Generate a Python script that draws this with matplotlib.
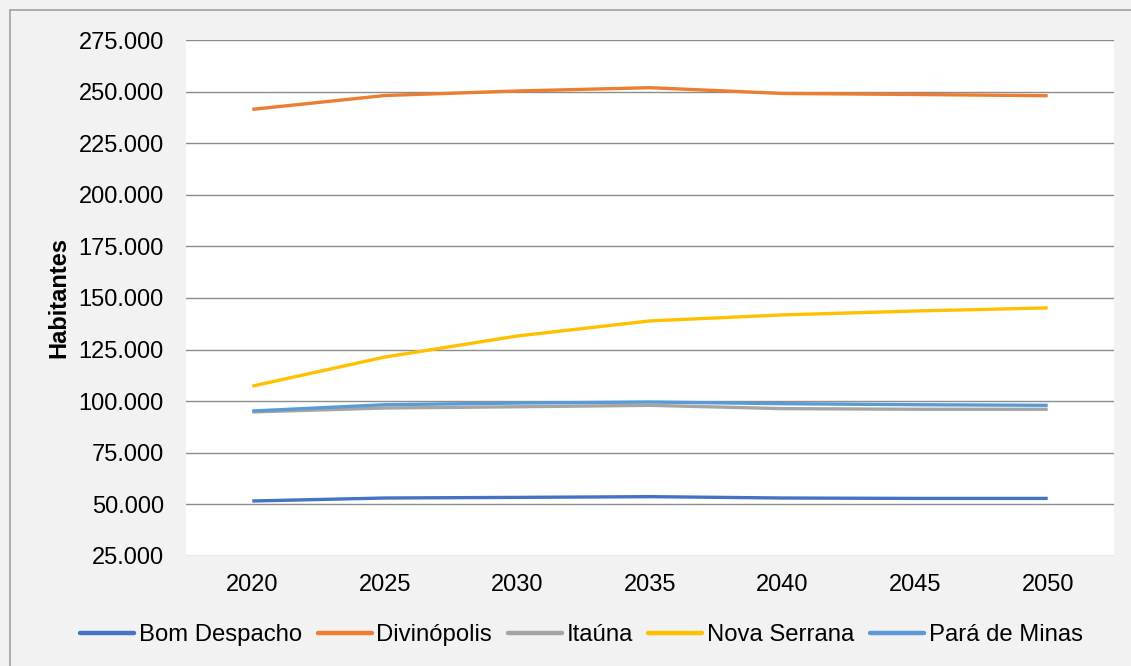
import matplotlib.pyplot as plt
from matplotlib.patches import Rectangle
from matplotlib.ticker import FuncFormatter

plt.rcParams['font.family'] = ['Liberation Sans', 'DejaVu Sans']

anos = ['2020', '2025', '2030', '2035', '2040', '2045', '2050']
bom_despacho = [51650, 53100, 53400, 53750, 53100, 52900, 52900]
divinopolis = [241400, 248100, 250300, 251900, 249100, 248600, 248000]
itauna = [94800, 96700, 97300, 98000, 96400, 96100, 96100]
nova_serrana = [107300, 121400, 131600, 138900, 141800, 143700, 145200]
para_de_minas = [95250, 98300, 99100, 99600, 98800, 98300, 98000]

series = [
    ('Bom Despacho', bom_despacho, '#4472C4'),
    ('Divinópolis', divinopolis, '#ED7D31'),
    ('Itaúna', itauna, '#A5A5A5'),
    ('Nova Serrana', nova_serrana, '#FFC000'),
    ('Pará de Minas', para_de_minas, '#5B9BD5'),
]

fig = plt.figure(figsize=(11.31, 6.66), dpi=100, facecolor='#F2F2F2')
# moldura do gráfico
fig.patches.append(Rectangle((10 / 1131, -0.1), 1.2, (656 / 666) + 0.1,
                             transform=fig.transFigure, fill=False,
                             edgecolor='#A0A0A0', linewidth=1.2))

ax = fig.add_axes([186 / 1131, 110 / 666, 928 / 1131, 516 / 666])
ax.set_facecolor('white')

x = range(len(anos))
for nome, vals, cor in series:
    ax.plot(x, vals, color=cor, linewidth=2.4, label=nome, solid_capstyle='butt')

ax.set_xlim(-0.5, len(anos) - 0.5)
ax.set_ylim(25000, 275000)
ax.set_yticks(range(25000, 275001, 25000))
ax.yaxis.set_major_formatter(FuncFormatter(lambda v, p: f'{int(v):,}'.replace(',', '.')))
ax.set_xticks(list(x))
ax.set_xticklabels(anos)

ax.grid(axis='y', color='#8C8C8C', linewidth=1.0)
ax.set_axisbelow(True)
for s in ax.spines.values():
    s.set_visible(False)
ax.tick_params(axis='both', length=0, labelsize=17, colors='black')
ax.tick_params(axis='y', pad=16)
ax.tick_params(axis='x', pad=13)

ax.set_ylabel('Habitantes', fontsize=17, fontweight='bold', labelpad=6)

leg = fig.legend(loc='center', bbox_to_anchor=(0.514, 1 - 635 / 666), ncol=5,
                 frameon=False, fontsize=17.2, handlelength=2.26,
                 handletextpad=0.2, columnspacing=0.65)
for h in leg.get_lines():
    h.set_linewidth(3.2)
    h.set_solid_capstyle('round')

fig.savefig('out.png', dpi=100, facecolor=fig.get_facecolor())
